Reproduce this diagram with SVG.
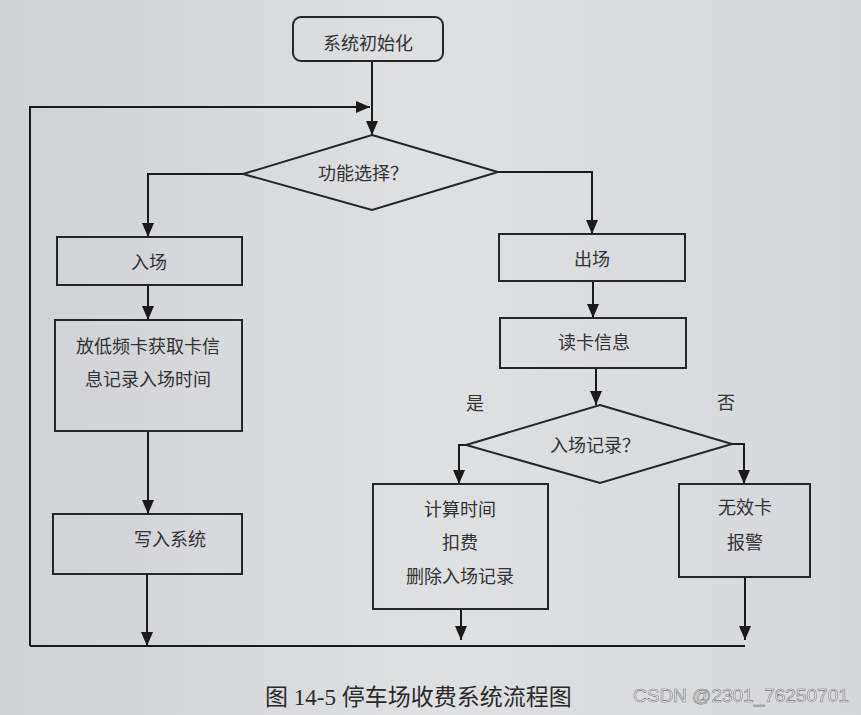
<svg xmlns="http://www.w3.org/2000/svg" width="861" height="715" viewBox="0 0 861 715">
<defs>
<linearGradient id="bg" x1="0" y1="0" x2="1" y2="0">
<stop offset="0" stop-color="#cfd1d4"/>
<stop offset="0.5" stop-color="#dfe0e2"/>
<stop offset="1" stop-color="#d6d7da"/>
</linearGradient>
<marker id="arr" viewBox="0 0 10 10" refX="10" refY="5" markerWidth="14" markerHeight="12" markerUnits="userSpaceOnUse" orient="auto" preserveAspectRatio="none">
<path d="M0,0 L10,5 L0,10 Z" fill="#1a1a1a"/>
</marker>
<style>
.box{fill:none;stroke:#262626;stroke-width:2}
.ln{fill:none;stroke:#1a1a1a;stroke-width:2}
.ar{fill:none;stroke:#1a1a1a;stroke-width:2;marker-end:url(#arr)}
text{font-family:"Noto Sans CJK SC","Noto Sans",sans-serif;fill:#333;font-size:18px;text-anchor:middle}
.cap{font-family:"Liberation Serif","Noto Sans CJK SC",serif;font-size:23px;text-anchor:start;fill:#2a2a2a}
.wm{font-family:"Liberation Sans",sans-serif;font-size:19px;fill:#f4f4f4;stroke:#777;stroke-width:0.6;text-anchor:start}
</style>
</defs>
<rect width="861" height="715" fill="url(#bg)"/>
<g id="connectors">
<path class="ar" d="M372,61 V135"/>
<path class="ar" d="M30,646 V107 H370"/>
<path class="ar" d="M243,174 H148 V237"/>
<path class="ar" d="M148,285 V320"/>
<path class="ar" d="M148,431 V514"/>
<path class="ar" d="M147,574 V646"/>
<path class="ln" d="M30,646 H745"/>
<path class="ar" d="M498,172 H592 V234"/>
<path class="ar" d="M593,281 V318"/>
<path class="ar" d="M596,368 V405"/>
<path class="ar" d="M466,445 H459 V484"/>
<path class="ar" d="M732,444 H744 V484"/>
<path class="ar" d="M461,609 V640"/>
<path class="ar" d="M745,577 V640"/>
</g>
<g id="start"><rect class="box" x="293" y="17" width="150" height="44" rx="8"/><text x="368" y="50">系统初始化</text></g>
<g id="choose"><polygon class="box" points="372,135 498,172 372,210 243,174"/><text x="363" y="180">功能选择？</text></g>
<g id="enter"><rect class="box" x="57" y="237" width="185" height="48"/><text x="149" y="269">入场</text></g>
<g id="readLow"><rect class="box" x="55" y="320" width="187" height="111"/><text x="148" y="353">放低频卡获取卡信</text><text x="148" y="386">息记录入场时间</text></g>
<g id="write"><rect class="box" x="53" y="514" width="189" height="60"/><text x="170" y="546">写入系统</text></g>
<g id="exit"><rect class="box" x="499" y="234" width="186" height="47"/><text x="592" y="266">出场</text></g>
<g id="readCard"><rect class="box" x="500" y="318" width="186" height="50"/><text x="594" y="349">读卡信息</text></g>
<g id="record"><polygon class="box" points="600,405 732,444 600,483 466,445"/><text x="595" y="452">入场记录？</text></g>
<text x="475" y="410">是</text>
<text x="726" y="409">否</text>
<g id="charge"><rect class="box" x="373" y="484" width="175" height="125"/><text x="460" y="516">计算时间</text><text x="460" y="549">扣费</text><text x="460" y="583">删除入场记录</text></g>
<g id="invalid"><rect class="box" x="679" y="484" width="131" height="93"/><text x="745" y="514">无效卡</text><text x="745" y="549">报警</text></g>
<text class="cap" x="265" y="705">图 14-5 停车场收费系统流程图</text>
<text class="wm" x="633" y="702">CSDN @2301_76250701</text>
</svg>
